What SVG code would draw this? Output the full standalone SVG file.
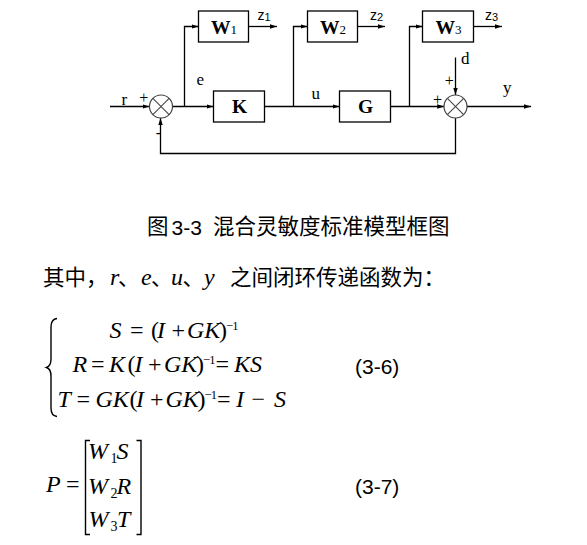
<svg xmlns="http://www.w3.org/2000/svg" width="587" height="545" viewBox="0 0 587 545">
<defs>
<marker id="arr" markerUnits="userSpaceOnUse" markerWidth="8" markerHeight="6" refX="7" refY="3" orient="auto">
<path d="M0,0.8 L7,3 L0,5.2 Z" fill="#000"/>
</marker>
<style>
.ln{fill:none;stroke:#000;stroke-width:1.3}
.ar{marker-end:url(#arr)}
.box{fill:#fff;stroke:#000;stroke-width:1.3}
.sum{fill:#fff;stroke:#444;stroke-width:1.2}
.sx{stroke:#444;stroke-width:1.1}
.bl{font-family:"Liberation Serif",serif;font-weight:bold;font-size:19.5px;fill:#000}
.sb{font-family:"Liberation Serif",serif;font-size:13px;fill:#000}
.zl{font-family:"Liberation Sans",sans-serif;font-size:14px;fill:#000}
.zs{font-family:"Liberation Sans",sans-serif;font-size:11px;fill:#000}
.lb{font-family:"Liberation Serif",serif;font-size:17px;fill:#000}
.pl{font-family:"Liberation Serif",serif;font-size:16px;fill:#000}
.cn{font-family:"Noto Sans CJK SC","Liberation Sans",sans-serif;font-size:21.5px;fill:#000}
.ar21{font-family:"Liberation Sans","Noto Sans CJK SC",sans-serif;font-size:21px;fill:#000}
.mi{font-family:"Liberation Serif",serif;font-style:italic;font-size:24px;fill:#000}
.mo{font-style:normal}
.sup{font-family:"Liberation Serif",serif;font-size:12.5px;letter-spacing:-0.8px;fill:#000}
.sub{font-family:"Liberation Serif",serif;font-size:14px;fill:#000}
.br{fill:none;stroke:#000;stroke-width:1.4}
</style>
</defs>

<g id="connectors">
<path class="ln ar" d="M110,106.5 H149.5"/>
<path class="ln ar" d="M172.5,106.5 H213.5"/>
<path class="ln ar" d="M184.5,106.5 V26.5 H198.5"/>
<path class="ln ar" d="M264.5,106.5 H339.5"/>
<path class="ln ar" d="M293.5,106.5 V26.5 H307.5"/>
<path class="ln ar" d="M390.5,106.5 H444.2"/>
<path class="ln ar" d="M409.5,106.5 V26.5 H422.5"/>
<path class="ln ar" d="M248.5,26.5 H277"/>
<path class="ln ar" d="M357.5,26.5 H385"/>
<path class="ln ar" d="M473.5,26.5 H502"/>
<path class="ln ar" d="M455.5,57.5 V95"/>
<path class="ln ar" d="M467,106.5 H531"/>
<path class="ln ar" d="M455.5,118 V153.5 H160.5 V118"/>
</g>

<g id="sum1">
<circle class="sum" cx="161" cy="106.5" r="11.5"/>
<line class="sx" x1="152.9" y1="98.4" x2="169.1" y2="114.6"/>
<line class="sx" x1="152.9" y1="114.6" x2="169.1" y2="98.4"/>
<text class="pl" x="143.8" y="103" text-anchor="middle">+</text>
<text class="pl" x="158.5" y="137.5" text-anchor="middle">-</text>
</g>

<g id="sum2">
<circle class="sum" cx="455.5" cy="106.5" r="11.5"/>
<line class="sx" x1="447.4" y1="98.4" x2="463.6" y2="114.6"/>
<line class="sx" x1="447.4" y1="114.6" x2="463.6" y2="98.4"/>
<text class="pl" x="437.5" y="104.5" text-anchor="middle">+</text>
<text class="pl" x="449.2" y="86" text-anchor="middle">+</text>
</g>

<g id="W1">
<rect class="box" x="198.5" y="11" width="50" height="31"/>
<text x="224" y="33.5" text-anchor="middle"><tspan class="bl">W</tspan><tspan class="sb">1</tspan></text>
</g>
<g id="W2">
<rect class="box" x="307.5" y="11" width="50" height="31"/>
<text x="333" y="33.5" text-anchor="middle"><tspan class="bl">W</tspan><tspan class="sb">2</tspan></text>
</g>
<g id="W3">
<rect class="box" x="422.5" y="11" width="51" height="31"/>
<text x="448.5" y="33.5" text-anchor="middle"><tspan class="bl">W</tspan><tspan class="sb">3</tspan></text>
</g>
<g id="K">
<rect class="box" x="213.5" y="91" width="51" height="31"/>
<text class="bl" x="239.5" y="112.5" text-anchor="middle">K</text>
</g>
<g id="G">
<rect class="box" x="339.5" y="91" width="51" height="31"/>
<text class="bl" x="365.5" y="112.5" text-anchor="middle">G</text>
</g>

<g id="labels">
<text class="lb" x="121.5" y="105">r</text>
<text class="lb" x="196.5" y="85">e</text>
<text class="lb" x="311.5" y="99">u</text>
<text class="lb" x="503" y="92.5">y</text>
<text class="lb" x="461" y="64">d</text>
<text x="257.5" y="19.5"><tspan class="zl">z</tspan><tspan class="zs" dy="1.5">1</tspan></text>
<text x="370" y="19.5"><tspan class="zl">z</tspan><tspan class="zs" dy="1.5">2</tspan></text>
<text x="485" y="19.5"><tspan class="zl">z</tspan><tspan class="zs" dy="1.5">3</tspan></text>
</g>

<g id="caption">
<text class="cn" x="147" y="234">图</text>
<text class="ar21" x="171.5" y="235">3-3</text>
<text class="cn" x="213" y="234">混合灵敏度标准模型框图</text>
</g>

<g id="textline">
<text class="cn" x="43" y="285">其中，</text>
<text class="mi" x="110" y="285" font-size="22">r</text>
<text class="cn" x="118" y="285">、</text>
<text class="mi" x="141" y="285" font-size="22">e</text>
<text class="cn" x="151" y="285">、</text>
<text class="mi" x="171" y="285" font-size="22">u</text>
<text class="cn" x="182.5" y="285">、</text>
<text class="mi" x="204" y="285" font-size="22">y</text>
<text class="cn" x="230" y="285">之间闭环传递函数为：</text>
</g>

<g id="eq36">
<path class="br" d="M57,318.5 C52.5,319 51,321.5 51,327 L51,359 C51,364 49.5,366.5 46.5,367.5 C49.5,368.5 51,371 51,376 L51,408 C51,413.5 52.5,416 57,416.5"/>
<text class="mi" y="338"><tspan x="109.5">S</tspan><tspan class="mo" x="130">=</tspan><tspan class="mo" x="151">(</tspan><tspan x="157">I</tspan><tspan class="mo" x="171.5">+</tspan><tspan x="187">GK</tspan><tspan class="mo" x="219">)</tspan></text>
<text class="sup" x="226" y="329.5">−1</text>
<text class="mi" y="372"><tspan x="72.5">R</tspan><tspan class="mo" x="91">=</tspan><tspan x="109">K</tspan><tspan class="mo" x="127.5">(</tspan><tspan x="134.5">I</tspan><tspan class="mo" x="148">+</tspan><tspan x="164">GK</tspan><tspan class="mo" x="196">)</tspan><tspan class="mo" x="215.5">=</tspan><tspan x="234">KS</tspan></text>
<text class="sup" x="203" y="363.5">−1</text>
<text class="mi" y="407"><tspan x="57.5">T</tspan><tspan class="mo" x="76.5">=</tspan><tspan x="95.5">GK</tspan><tspan class="mo" x="129.5">(</tspan><tspan x="136">I</tspan><tspan class="mo" x="150">+</tspan><tspan x="165.5">GK</tspan><tspan class="mo" x="197.5">)</tspan><tspan class="mo" x="217">=</tspan><tspan x="236">I</tspan><tspan class="mo" x="251.5">−</tspan><tspan x="274">S</tspan></text>
<text class="sup" x="204.5" y="398.5">−1</text>
<text class="ar21" x="355" y="374">(3-6)</text>
</g>

<g id="eq37">
<text class="mi" y="491.5"><tspan x="46">P</tspan><tspan class="mo" x="66">=</tspan></text>
<path class="br" d="M90,440.5 H85.5 V534.5 H90"/>
<path class="br" d="M136.5,440.5 H141 V534.5 H136.5"/>
<text class="mi" y="458.5"><tspan x="88">W</tspan><tspan x="116.5">S</tspan></text>
<text class="sub" x="110.5" y="462.5">1</text>
<text class="mi" y="493.5"><tspan x="88">W</tspan><tspan x="116.5">R</tspan></text>
<text class="sub" x="110.5" y="497.5">2</text>
<text class="mi" y="527"><tspan x="88.5">W</tspan><tspan x="117">T</tspan></text>
<text class="sub" x="110.5" y="531">3</text>
<text class="ar21" x="355" y="494">(3-7)</text>
</g>
</svg>
